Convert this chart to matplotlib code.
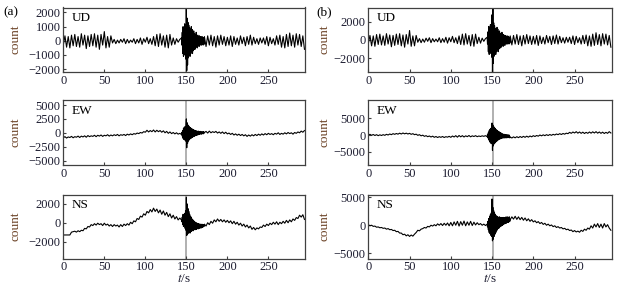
import numpy as np
import matplotlib
matplotlib.use("Agg")
import matplotlib.pyplot as plt

plt.rcParams['font.family'] = ['Liberation Serif', 'DejaVu Serif']
plt.rcParams['mathtext.fontset'] = 'stix'

# sample times: 2 s steps outside the burst, 0.5 s steps through it
t = np.concatenate([np.arange(0, 144, 2), np.arange(144, 172, 0.5), np.arange(172, 296, 2)])

ud_a = [
    -300, 350, -450, 300, -500, 400, -350, 450, -400, 300, -450, 500, -300, 400, -550,
    350, -400, 450, -350, 500, -450, 400, -600, 450, -300, 650, -500, 300, -450, 350,
    -150, 100, -200, 50, -150, 100, -100, 150, -200, 100, -150, 50, -100, 150, -200,
    100, -150, 200, -250, 150, -100, 250, -200, 150, -250,
    300, -350, 450, -400, 500, -300, 350, -450, 400, -500, 450, -300, 200, -250, 150, -100, 100,
    200, -300, 600, -900, 1000, -1100, 900, -1000,
    1200, -900, 1000, -1300, 2300, -2100, 1600, -1700,
    1300, -1200, 1100, -1000, 900, -1100, 800, -900,
    1000, -700, 800, -900, 600, -700, 700, -600,
    500, -600, 400, -500, 600, -400, 300, -500,
    400, -300, 300, -400, 350, -250, 300, -300,
    250, -300, 300, -200, 250, -300, 200, -250,
    300, -400, 350, -300, 400, -350, 300, -450, 350, -300, 400, -250, 300, -350, 250,
    -300, 350, -400, 300, -250, 200, -300, 350, -200, 250, -350, 300, -250, 400, -300,
    250, -200, 150, -250, 200,
    -150, 200, -250, 300, -350, 250, -200, 150, -300, 350, -250, 400, -450, 300,
    -500, 450, -400, 550, -350, 400, -450, 500, -300, 450, -400, 350, -600,
]

ud_b = [
    -400, 500, -650, 450, -700, 600, -500, 650, -550, 450, -600, 700, -450, 550, -750,
    500, -600, 650, -500, 700, -650, 550, -800, 600, -450, 1050, -700, 450, -650, 500,
    -250, 150, -300, 100, -250, 200, -150, 250, -300, 150, -200, 100, -200, 250, -300,
    150, -250, 300, -350, 250, -200, 400, -300, 250, -400,
    450, -500, 650, -550, 700, -450, 500, -650, 600, -700, 650, -400, 300, -350, 200, -150, 150,
    300, -450, 900, -1300, 1500, -1600, 1400, -1500,
    1700, -1400, 1500, -1900, 2800, -3600, 3450, -2600,
    1900, -1800, 1600, -1500, 1300, -1600, 1200, -1300,
    1400, -1000, 1200, -1300, 900, -1000, 1000, -900,
    750, -850, 600, -750, 850, -600, 450, -700,
    600, -450, 450, -600, 500, -400, 450, -450,
    400, -450, 450, -300, 350, -450, 300, -350,
    450, -550, 500, -450, 600, -500, 450, -650, 500, -450, 600, -400, 450, -500, 400,
    -450, 500, -600, 450, -400, 300, -450, 500, -300, 400, -500, 450, -400, 550, -450,
    400, -300, 250, -350, 300,
    -250, 300, -400, 450, -500, 400, -300, 250, -450, 500, -400, 550, -650, 450,
    -700, 650, -600, 800, -500, 600, -650, 700, -450, 650, -550, 500, -800,
]

ew_a = [
    -900, -700, -950, -750, -850, -650, -900, -700, -800, -600,
    -850, -600, -750, -550, -800, -500, -700, -550, -650, -450,
    -700, -450, -600, -400, -650, -450, -550, -350, -600, -400,
    -550, -350, -500, -300, -550, -350, -450, -300, -500, -250,
    -400, -200, -350, -150, -250, -50, -150, 50, -50, 200,
    100, 450, 150, 400, 200, 500, 150, 450, 200, 400,
    100, 350, 0, 250, -100, 150, -150, 50, -200, 0, -250, -100,
    -300, 100, -600, 400, -1000, 800, -1200, 1000,
    -1300, 1100, -1500, 1200, 2500, -2700, 1800, -1900,
    1400, -1500, 1200, -1300, 1000, -1100, 900, -1000,
    800, -900, 700, -800, 600, -700, 500, -650,
    450, -550, 400, -500, 350, -450, 300, -400,
    250, -350, 300, -300, 200, -250, 250, -200,
    150, -250, 200, -150, 150, -200, 200, -100,
    50, 250, -50, 300, 0, 200, 50, 250, -50, 150, -100, 150, -150, 100, -200,
    -50, -300, -100, -400, -200, -450, -250, -500, -300, -550, -350, -650, -400, -600, -350,
    -550, -300, -500, -250, -450,
    -200, -400, -150, -350, -100, -300, -150, -350, -100, -250, 0, -300, -100, -250,
    0, -200, 50, -150, 0, -250, 50, -100, 150, 0, 300, 100, 400,
]

ew_b = [
    0, 200, -100, 150, -150, 100, -200, 50, -150, 100,
    -100, 200, 0, 300, 100, 400, 200, 450, 250, 550,
    300, 600, 350, 550, 300, 500, 200, 400, 100, 250,
    -100, 100, -250, -50, -400, -200, -500, -300, -600, -350,
    -700, -450, -750, -500, -700, -450, -750, -500, -650, -400,
    -700, -300, -600, -200, -650, -150, -550, -200, -600, -250,
    -500, -150, -550, -250, -450, -200, -500, -300, -450, -250, -400, -200,
    -500, 200, -900, 700, -1500, 1300, -2000, 1700,
    -2300, 2000, -2600, 2200, 3600, -4600, 3000, -3300,
    2500, -2700, 2200, -2400, 1900, -2100, 1600, -1900,
    1400, -1700, 1200, -1500, 1000, -1300, 900, -1200,
    700, -1100, 600, -1000, 400, -900, 300, -900,
    200, -800, 200, -900, 100, -800, 100, -850,
    0, -800, 50, -750, 0, -800, -50, -850,
    -600, -900, -550, -850, -500, -800, -450, -750, -400, -700, -350, -650, -300, -550, -200,
    -450, -150, -350, 0, -250, 50, -200, 100, -150, 150, -100, 200, 0, 300, 100,
    400, 150, 450, 250, 550,
    400, 800, 500, 900, 600, 1000, 550, 900, 500, 850, 450, 800, 500, 900,
    550, 950, 600, 1000, 550, 900, 500, 850, 450, 800, 500, 1000, 600,
]

ns_a = [
    -1300, -1300, -1300, -1300, -1300, -1000, -950, -900, -1000, -850,
    -950, -800, -850, -600, -650, -400, -450, -200, -300, -100,
    -250, -50, -200, -100, -300, -50, -250, -150, -350, -200,
    -400, -200, -350, -250, -450, -200, -400, -150, -300, -100,
    -250, 50, -100, 200, 100, 450, 350, 700, 600, 950,
    800, 1200, 1050, 1400, 1150, 1550, 1200, 1450, 1050, 1350,
    900, 1250, 800, 1100, 650, 950, 500, 800, 400, 650, 300, 500,
    300, 100, 600, -200, 900, -400, 700, -300,
    1000, -600, 1300, -800, 2700, -1350, 2000, -1200,
    1500, -1100, 1200, -1000, 900, -1100, 700, -900,
    600, -900, 400, -800, 300, -850, 200, -700,
    100, -750, 50, -650, 0, -700, -50, -600,
    -100, -650, -100, -550, -150, -600, -150, -500,
    -200, -550, -150, -500, -250, -450, -200, -400,
    -150, -350, 0, -200, 150, -50, 300, 100, 400, 150, 350, 100, 300, 50, 250,
    0, 200, -100, 150, -150, 50, -250, -50, -350, -150, -450, -250, -550, -350, -700,
    -500, -750, -550, -650, -450,
    -500, -250, -400, -150, -300, -50, -200, 50, -150, 100, -200, 50, -100, 150,
    -50, 250, 0, 300, 100, 400, 250, 550, 450, 800, 600, 850, 350,
]

ns_b = [
    100, -100, 0, -200, -150, -350, -300, -450, -400, -550,
    -500, -700, -600, -800, -750, -950, -900, -1150, -1100, -1400,
    -1400, -1700, -1600, -1900, -1700, -2000, -1750, -1950, -1600, -1300,
    -900, -1000, -700, -600, -400, -500, -200, -300, 0, -150,
    100, -100, 250, 0, 300, -50, 350, 0, 400, -100,
    500, -100, 600, 0, 700, -150, 650, 0, 750, -100,
    600, 0, 700, -50, 550, 50, 450, 100, 300, 0, 200, -50,
    200, -300, 700, -800, 1200, -1300, 1600, -1500,
    1900, -1800, 2200, -2000, 4700, -2800, 3200, -2500,
    2600, -2000, 2200, -1600, 1900, -1300, 1700, -1000,
    1600, -800, 1500, -600, 1400, -500, 1500, -300,
    1400, -200, 1300, -100, 1400, 0, 1300, 100,
    1400, 200, 1300, 300, 1400, 300, 1500, 400,
    1400, 500, 1500, 500, 1400, 600, 1500, 700,
    1000, 1500, 1100, 1600, 1050, 1500, 1000, 1400, 900, 1300, 800, 1150, 700, 1000, 600,
    800, 450, 650, 300, 500, 150, 350, 0, 200, -100, 50, -250, -100, -400, -250,
    -500, -400, -650, -550, -800,
    -700, -950, -850, -1150, -950, -1200, -1050, -1250, -900, -1100, -700, -900, -500, -700,
    -100, -500, 200, -300, 300, -400, 200, -500, 300, -300, 100, -500, -900,
]

names = ['UD', 'EW', 'NS']
event_t = [150, 151]
ylims_a = [(-2200, 2350), (-5800, 5900), (-3800, 3000)]
ylims_b = [(-3550, 3600), (-9000, 10500), (-5950, 5500)]
yticks_a = [[-2000, -1000, 0, 1000, 2000], [-5000, -2500, 0, 2500, 5000], [-2000, 0, 2000]]
yticks_b = [[-2000, 0, 2000], [-5000, 0, 5000], [-5000, 0, 5000]]

fig = plt.figure(figsize=(6.23, 2.89), dpi=100)
W, H = 623, 289
rows = [(7.5, 72), (100, 165), (194.5, 258.5)]
cols = [(63.3, 305.3), (368.3, 611.7)]

series = [[ud_a, ew_a, ns_a], [ud_b, ew_b, ns_b]]
ylims = [ylims_a, ylims_b]
yticks = [yticks_a, yticks_b]
lab_x = [-0.172, -0.157]
spine_c = '#404040'
tick_c = '#1c1c30'

for c, (x0, x1) in enumerate(cols):
    for r, (y0, y1) in enumerate(rows):
        ax = fig.add_axes([x0 / W, 1 - y1 / H, (x1 - x0) / W, (y1 - y0) / H])
        y = np.array(series[c][r])
        assert len(y) == len(t)
        ax.axvline(event_t[c], color='#b0b0b0', lw=1.4, zorder=1)
        ax.plot(t, y, color='black', lw=0.8, zorder=2)
        ax.set_xlim(0, 295)
        ax.set_ylim(*ylims[c][r])
        ax.set_xticks([0, 50, 100, 150, 200, 250])
        ax.set_yticks(yticks[c][r])
        ax.set_yticklabels([str(v).replace('-', '\u2212') for v in yticks[c][r]])
        ax.tick_params(direction='in', length=2.5, width=0.8, labelsize=9,
                       colors=spine_c, labelcolor=tick_c, pad=2)
        for s in ax.spines.values():
            s.set_color(spine_c)
            s.set_linewidth(0.9)
        ax.text(0.035, 0.93, names[r], transform=ax.transAxes, fontsize=9.5,
                va='top', ha='left', color='black')
        ax.set_ylabel('count', fontsize=9.5, color='#6b4226')
        ax.yaxis.set_label_coords(lab_x[c], 0.5)
        if r == 2:
            ax.set_xlabel('$t$/s', fontsize=9.5, color=tick_c, labelpad=0)

fig.text(3 / W, 1 - 12 / H, '(a)', fontsize=9.5, va='center', ha='left')
fig.text(316 / W, 1 - 12 / H, '(b)', fontsize=9.5, va='center', ha='left')

fig.savefig('out.png', dpi=100)
